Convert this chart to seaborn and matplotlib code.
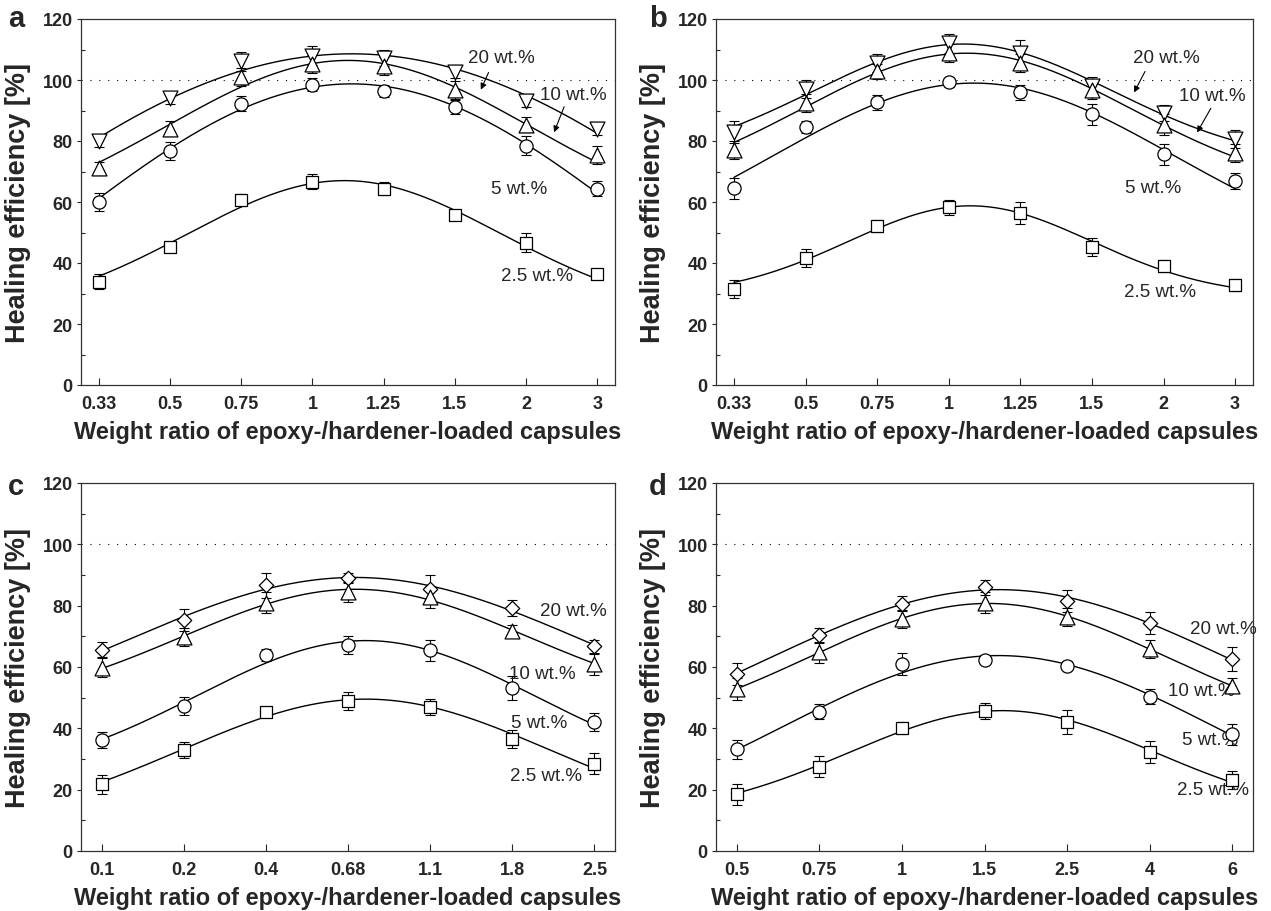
import numpy as np
import pandas as pd
import matplotlib
matplotlib.use("Agg")
import matplotlib.pyplot as plt
import seaborn as sns

sns.set_style("ticks")
plt.rcParams["font.family"] = ["Liberation Sans", "DejaVu Sans"]

# x categories (weight ratio epoxy/hardener capsules)
ratios_ab = ["0.33", "0.5", "0.75", "1", "1.25", "1.5", "2", "3"]
ratios_c = ["0.1", "0.2", "0.4", "0.68", "1.1", "1.8", "2.5"]
ratios_d = ["0.5", "0.75", "1", "1.5", "2.5", "4", "6"]

# panel a
a_20 = [80.0, 94.1, 106.1, 108.0, 107.2, 102.5, 93.2, 84.0]
a_20_err = [2.0, 2.0, 3.0, 3.0, 2.5, 2.0, 2.0, 2.0]
a_10 = [71.0, 84.0, 101.0, 105.2, 104.5, 96.6, 85.4, 75.4]
a_10_err = [2.0, 2.5, 3.0, 3.0, 3.0, 3.0, 2.5, 3.0]
a_5 = [60.1, 76.7, 92.2, 98.5, 96.4, 91.3, 78.5, 64.4]
a_5_err = [3.0, 3.0, 2.5, 2.0, 2.0, 2.5, 3.0, 2.5]
a_25 = [33.9, 45.1, 60.7, 66.7, 64.4, 55.9, 46.7, 36.3]
a_25_err = [2.5, 1.5, 2.0, 2.5, 2.0, 1.5, 3.0, 1.5]

# panel b
b_20 = [83.0, 97.1, 105.6, 112.0, 109.0, 98.1, 89.2, 80.7]
b_20_err = [3.5, 3.0, 3.0, 3.0, 4.0, 3.0, 2.5, 3.0]
b_10 = [77.0, 92.5, 102.8, 108.8, 105.6, 96.8, 85.4, 76.1]
b_10_err = [3.0, 3.0, 2.5, 3.0, 3.0, 3.0, 3.5, 3.0]
b_5 = [64.5, 84.5, 92.7, 99.3, 96.0, 88.7, 75.6, 66.9]
b_5_err = [3.5, 2.0, 2.5, 1.5, 2.5, 3.5, 3.5, 2.5]
b_25 = [31.5, 41.6, 52.2, 58.2, 56.4, 45.3, 38.9, 32.9]
b_25_err = [3.0, 3.0, 2.0, 2.5, 3.5, 3.0, 2.0, 2.0]

# panel c
c_20 = [65.7, 75.4, 86.6, 89.1, 85.4, 79.2, 66.7]
c_20_err = [2.5, 3.5, 4.0, 1.5, 4.5, 2.5, 2.0]
c_10 = [59.8, 69.7, 81.0, 84.3, 82.8, 71.8, 60.9]
c_10_err = [3.0, 3.0, 3.5, 3.0, 3.5, 2.0, 3.5]
c_5 = [36.2, 47.3, 63.9, 67.2, 65.4, 53.2, 42.1]
c_5_err = [2.5, 3.0, 2.0, 3.0, 3.5, 4.0, 3.0]
c_25 = [21.7, 32.9, 45.4, 48.9, 47.0, 36.5, 28.5]
c_25_err = [3.0, 2.5, 1.5, 3.0, 2.5, 3.0, 3.5]

# panel d
d_20 = [57.7, 70.3, 80.7, 86.0, 81.5, 74.3, 62.6]
d_20_err = [3.5, 2.5, 2.5, 2.5, 3.5, 3.5, 4.0]
d_10 = [52.8, 64.8, 75.7, 81.0, 76.3, 65.9, 53.9]
d_10_err = [3.5, 3.5, 3.0, 3.5, 3.0, 3.0, 2.5]
d_5 = [33.1, 45.4, 61.0, 62.4, 60.4, 50.3, 38.0]
d_5_err = [3.0, 2.5, 3.5, 1.5, 1.5, 2.5, 3.5]
d_25 = [18.5, 27.5, 40.2, 45.7, 42.1, 32.3, 23.2]
d_25_err = [3.5, 3.5, 2.0, 2.5, 4.0, 3.5, 3.0]

# marker style -> (marker, scatter size)
mk = {"v": ("v", 115), "^": ("^", 115), "o": ("o", 90), "s": ("s", 66), "D": ("D", 54)}


def gauss_fit(x, y, xs):
    # gaussian with baseline, brute force over centre/width, linear for offset/amplitude
    x = np.asarray(x, float)
    y = np.asarray(y, float)
    best = None
    for xc in np.linspace(x.min(), x.max(), 141):
        for w in np.linspace(0.6, 8, 149):
            g = np.exp(-(x - xc) ** 2 / (2 * w * w))
            A = np.column_stack([np.ones_like(x), g])
            coef, *_ = np.linalg.lstsq(A, y, rcond=None)
            sse = np.sum((A @ coef - y) ** 2)
            if best is None or sse < best[0]:
                best = (sse, xc, w, coef)
    _, xc, w, coef = best
    return coef[0] + coef[1] * np.exp(-(xs - xc) ** 2 / (2 * w * w))


def draw_panel(ax, ratios, series, notes, arrows):
    x = np.arange(len(ratios))
    xs = np.linspace(0, len(ratios) - 1, 300)
    ax.axhline(100, color="black", lw=0.8, ls=(0, (1, 7)), zorder=1)
    for vals, errs, m in series:
        sns.lineplot(x=xs, y=gauss_fit(x, vals, xs), color="black", lw=1.0, ax=ax, zorder=2)
        ax.errorbar(x, vals, yerr=errs, fmt="none", ecolor="black", elinewidth=0.8,
                    capsize=3.5, capthick=0.8, zorder=3)
        sns.scatterplot(x=x, y=vals, marker=mk[m][0], s=mk[m][1], facecolor="white",
                        edgecolor="black", linewidth=0.9, ax=ax, zorder=4)
    for txt, tx, ty in notes:
        ax.text(tx, ty, txt, ha="center", va="center", fontsize=13.5)
    for (sx, sy), (ex, ey) in arrows:
        ax.annotate("", xy=(ex, ey), xytext=(sx, sy),
                    arrowprops=dict(arrowstyle="-|>", lw=0.8, color="black", mutation_scale=9))
    ax.set_xlim(-0.25, len(ratios) - 0.75)
    ax.set_ylim(0, 120)
    ax.set_xticks(x)
    ax.set_xticklabels(ratios)
    ax.set_yticks(range(0, 121, 20))
    ax.set_yticks(range(10, 120, 20), minor=True)
    ax.tick_params(axis="x", direction="in", length=5, width=0.8, pad=7, labelsize=13)
    ax.tick_params(axis="y", which="major", direction="out", length=3, width=0.8, pad=3, labelsize=13)
    ax.tick_params(axis="y", which="minor", direction="in", length=3, width=0.8)
    for lab in ax.get_xticklabels() + ax.get_yticklabels():
        lab.set_fontweight("bold")
    for sp in ax.spines.values():
        sp.set_linewidth(0.9)
        sp.set_color("#333333")
    ax.set_xlabel("Weight ratio of epoxy-/hardener-loaded capsules", fontsize=17,
                  fontweight="bold", labelpad=6)
    ax.set_ylabel("Healing efficiency [%]", fontsize=19.5, fontweight="bold")
    ax.yaxis.set_label_coords(-0.094, 0.5)


fig = plt.figure(figsize=(12.71, 9.12), dpi=100)
W, H = 1271, 912


def box(l, t, r, b):
    return fig.add_axes([l / W, 1 - b / H, (r - l) / W, (b - t) / H])


ax_a = box(81, 20, 615, 386)
ax_b = box(716, 20, 1253, 386)
ax_c = box(81, 484, 615, 852)
ax_d = box(716, 484, 1253, 852)

draw_panel(ax_a, ratios_ab,
           [(a_20, a_20_err, "v"), (a_10, a_10_err, "^"), (a_5, a_5_err, "o"), (a_25, a_25_err, "s")],
           [("20 wt.%", 5.66, 107.5), ("10 wt.%", 6.66, 95.4), ("5 wt.%", 5.9, 64.3), ("2.5 wt.%", 6.16, 36.0)],
           [((5.49, 103.3), (5.35, 96.0)), ((6.55, 92.1), (6.38, 82.0))])
draw_panel(ax_b, ratios_ab,
           [(b_20, b_20_err, "v"), (b_10, b_10_err, "^"), (b_5, b_5_err, "o"), (b_25, b_25_err, "s")],
           [("20 wt.%", 6.04, 107.5), ("10 wt.%", 6.68, 94.8), ("5 wt.%", 5.85, 64.9), ("2.5 wt.%", 5.95, 30.5)],
           [((5.76, 103.6), (5.57, 95.1)), ((6.68, 91.5), (6.45, 82.0))])
draw_panel(ax_c, ratios_c,
           [(c_20, c_20_err, "D"), (c_10, c_10_err, "^"), (c_5, c_5_err, "o"), (c_25, c_25_err, "s")],
           [("20 wt.%", 5.74, 78.3), ("10 wt.%", 5.37, 58.0), ("5 wt.%", 5.33, 42.0), ("2.5 wt.%", 5.41, 24.5)],
           [])
draw_panel(ax_d, ratios_d,
           [(d_20, d_20_err, "D"), (d_10, d_10_err, "^"), (d_5, d_5_err, "o"), (d_25, d_25_err, "s")],
           [("20 wt.%", 5.89, 72.7), ("10 wt.%", 5.63, 52.2), ("5 wt.%", 5.73, 36.2), ("2.5 wt.%", 5.77, 20.2)],
           [])

for letter, px, py in [("a", 16, 27), ("b", 658, 27), ("c", 16, 495), ("d", 658, 495)]:
    fig.text(px / W, 1 - py / H, letter, ha="center", va="baseline", fontsize=21, fontweight="bold")

fig.savefig("out.png", dpi=100)
